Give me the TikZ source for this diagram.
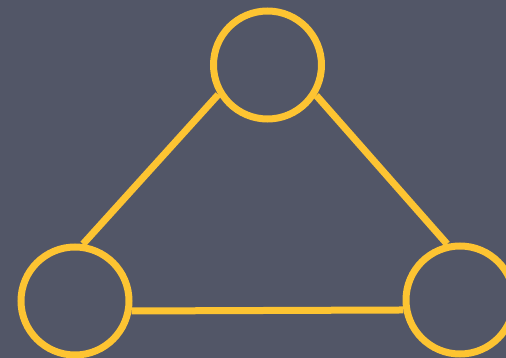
\documentclass[tikz,border=0pt]{standalone}
\definecolor{bgc}{HTML}{525667}
\definecolor{ylw}{HTML}{FDC432}
\begin{document}
\begin{tikzpicture}[x=1pt,y=-1pt,
  ring/.style={circle,draw=ylw,line width=7pt,minimum size=108pt,inner sep=0pt},
  link/.style={draw=ylw,line width=7pt}]
\fill[bgc] (0,0) rectangle (506,358);
\useasboundingbox (0,0) rectangle (506,358);
\node[ring] (t) at (267.5,65) {};
\node[ring] (l) at (75,301) {};
\node[ring] (r) at (460,300) {};
\draw[link] (t.211) -- (l.82);
\draw[link] (t.-32) -- (r.103);
\draw[link] (l.-10) -- (r.190);
\end{tikzpicture}
\end{document}
